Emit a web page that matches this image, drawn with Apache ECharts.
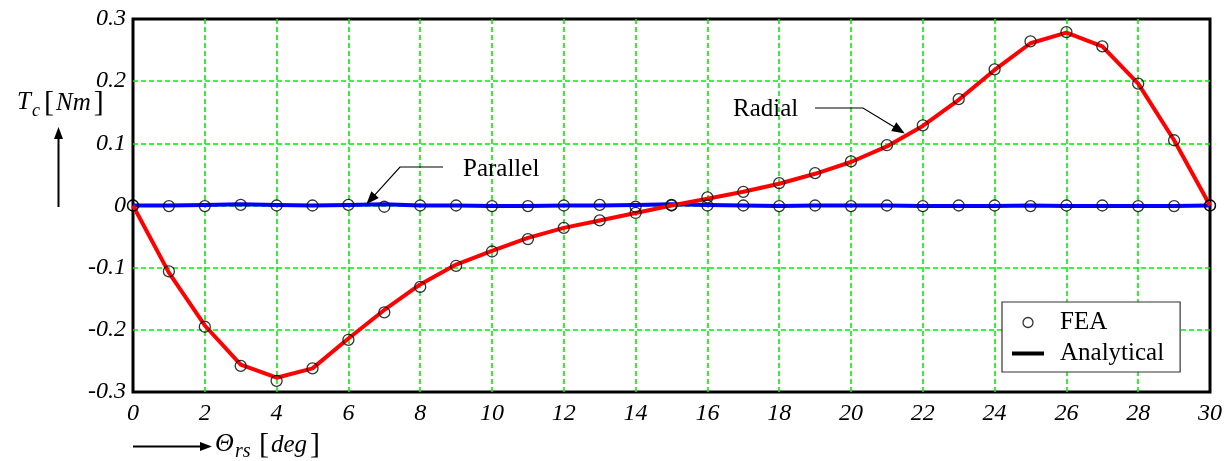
<!DOCTYPE html>
<html>
<head>
<meta charset="utf-8">
<title>Cogging torque vs. rotor position</title>
<script src="https://cdn.jsdelivr.net/npm/echarts@6/dist/echarts.min.js"></script>
<style>
  html, body { margin: 0; padding: 0; background: #fff; }
  #chart { width: 1226px; height: 461px; }
</style>
</head>
<body>
<div id="chart"></div>
<script>
// Rotor position in degrees
const thetaDeg = [0, 1, 2, 3, 4, 5, 6, 7, 8, 9, 10, 11, 12, 13, 14, 15,
                  16, 17, 18, 19, 20, 21, 22, 23, 24, 25, 26, 27, 28, 29, 30];

// Radial magnetisation: cogging torque [Nm]
const radialAnalytical = [0, -0.108, -0.193, -0.256, -0.277, -0.262, -0.214, -0.168, -0.127, -0.095,
                          -0.073, -0.052, -0.036, -0.024, -0.012, 0.000, 0.011, 0.022, 0.035, 0.051,
                          0.070, 0.095, 0.128, 0.170, 0.218, 0.261, 0.278, 0.256, 0.196, 0.105, 0.000];
const radialFEA = [0, -0.106, -0.195, -0.258, -0.282, -0.262, -0.216, -0.172, -0.131, -0.097,
                   -0.074, -0.054, -0.036, -0.024, -0.012, 0.000, 0.013, 0.022, 0.036, 0.052,
                   0.071, 0.097, 0.129, 0.171, 0.219, 0.264, 0.279, 0.256, 0.196, 0.105, 0.000];

// Parallel magnetisation: cogging torque [Nm]
const parallelAnalytical = [0, 0, 0.001, 0.002, 0.001, 0, 0.001, 0.002, 0, 0,
                            -0.001, -0.001, 0, 0, 0.001, 0.002, 0.001, 0, -0.001, 0,
                            0, 0, -0.001, -0.001, -0.001, 0, -0.001, -0.001, -0.001, -0.001, 0];
const parallelFEA = [0, -0.001, -0.001, 0.001, 0, 0, 0.001, -0.002, 0, 0,
                     -0.001, -0.001, 0, 0.001, -0.002, 0.001, 0, 0, -0.001, 0,
                     -0.001, 0, -0.001, 0, 0, -0.001, 0, 0, -0.001, -0.001, 0];

// Tick labels of the torque axis
const yTickLabels = { '-0.3': '-0.3', '-0.2': '-0.2', '-0.1': '-0.1', '0': '0', '0.1': '0.1', '0.2': '0.2', '0.3': '0.3' };

// Where the curve labels point, in data coordinates
const parallelPointer = [6.5, 0.002];
const radialPointer = [21.5, 0.116];

const pair = (xs, ys) => xs.map((x, i) => [x, ys[i]]);

const SERIF = "'Liberation Serif', 'Times New Roman', serif";
const GREEN = '#00f000';

const gridLines = () => ({
  show: true, showMinLine: false, showMaxLine: false,
  lineStyle: { color: GREEN, width: 1.6, type: [5, 3] }
});

const chart = echarts.init(document.getElementById('chart'), null, { renderer: 'canvas' });

const option = {
  backgroundColor: '#fff',
  animation: false,
  grid: {
    left: 133, right: 16, top: 19, bottom: 69,
    show: true, borderColor: '#000', borderWidth: 3, backgroundColor: 'transparent',
    containLabel: false
  },
  xAxis: {
    type: 'value', min: 0, max: 30, interval: 2,
    axisLine: { show: false },
    axisTick: { show: false },
    axisLabel: {
      margin: 10, color: '#000', fontFamily: SERIF, fontStyle: 'italic', fontSize: 24
    },
    splitLine: gridLines()
  },
  yAxis: {
    type: 'value', min: -0.3, max: 0.3, interval: 0.1,
    axisLine: { show: false },
    axisTick: { show: false },
    axisLabel: {
      margin: 7, color: '#000', fontFamily: SERIF, fontStyle: 'italic', fontSize: 24,
      formatter: v => yTickLabels[String(Math.round(v * 10) / 10)] ?? String(v)
    },
    splitLine: gridLines()
  },
  legend: {
    orient: 'vertical',
    left: 1002, top: 302,
    padding: [8, 16, 6, 10],
    itemGap: 6,
    itemWidth: 32, itemHeight: 10,
    backgroundColor: '#fff',
    borderColor: '#333', borderWidth: 1.2, borderRadius: 0,
    selectedMode: false,
    textStyle: { color: '#000', fontFamily: SERIF, fontSize: 25, padding: [0, 0, 0, 11] },
    data: [
      { name: 'FEA', icon: 'circle',
        itemStyle: { color: 'rgba(0,0,0,0)', borderColor: '#000', borderWidth: 1.3 } },
      { name: 'Analytical', icon: 'path://M0,0H32V4H0Z',
        itemStyle: { color: '#000', borderWidth: 0 } }
    ]
  },
  series: [
    {
      name: 'Analytical', type: 'line', data: pair(thetaDeg, parallelAnalytical),
      symbol: 'none', smooth: false, z: 2,
      lineStyle: { color: '#0000ff', width: 4 }, itemStyle: { color: '#0000ff' }
    },
    {
      name: 'Analytical', type: 'line', data: pair(thetaDeg, radialAnalytical),
      symbol: 'none', smooth: false, z: 3,
      lineStyle: { color: '#ff0000', width: 4 }, itemStyle: { color: '#ff0000' }
    },
    {
      name: 'FEA', type: 'scatter', data: pair(thetaDeg, parallelFEA),
      symbol: 'circle', symbolSize: 11, z: 4,
      itemStyle: { color: 'rgba(0,0,0,0)', borderColor: '#000', borderWidth: 1.3 }
    },
    {
      name: 'FEA', type: 'scatter', data: pair(thetaDeg, radialFEA),
      symbol: 'circle', symbolSize: 11, z: 4,
      itemStyle: { color: 'rgba(0,0,0,0)', borderColor: '#000', borderWidth: 1.3 }
    }
  ]
};

chart.setOption(option);

// Filled triangular arrow head pointing from `from` to `tip`
function arrowHead(from, tip, len, halfW) {
  const dx = tip[0] - from[0], dy = tip[1] - from[1];
  const d = Math.hypot(dx, dy) || 1;
  const ux = dx / d, uy = dy / d;
  const bx = tip[0] - ux * len, by = tip[1] - uy * len;
  return {
    type: 'polygon', silent: true, z: 20,
    shape: { points: [tip, [bx - uy * halfW, by + ux * halfW], [bx + uy * halfW, by - ux * halfW]] },
    style: { fill: '#000' }
  };
}

function leader(points) {
  const n = points.length;
  const from = points[n - 2], tip = points[n - 1];
  const dx = tip[0] - from[0], dy = tip[1] - from[1];
  const d = Math.hypot(dx, dy);
  const stop = [tip[0] - dx / d * 10, tip[1] - dy / d * 10];
  return [
    { type: 'polyline', silent: true, z: 20,
      shape: { points: points.slice(0, n - 1).concat([stop]) },
      style: { stroke: '#000', lineWidth: 1.2, fill: null } },
    arrowHead(from, tip, 13, 5)
  ];
}

const pTip = chart.convertToPixel({ gridIndex: 0 }, parallelPointer);
const rTip = chart.convertToPixel({ gridIndex: 0 }, radialPointer);

const graphics = [];

// Curve labels with leader arrows
graphics.push({ type: 'text', silent: true, z: 20,
  style: { x: 463, y: 169, text: 'Parallel', font: '25px ' + SERIF, fill: '#000', verticalAlign: 'middle' } });
graphics.push(...leader([[443, 167], [400, 167], pTip]));

graphics.push({ type: 'text', silent: true, z: 20,
  style: { x: 733, y: 109, text: 'Radial', font: '25px ' + SERIF, fill: '#000', verticalAlign: 'middle' } });
graphics.push(...leader([[815, 108], [863, 108], rTip]));

// Torque axis title with upward arrow
graphics.push({ type: 'text', silent: true,
  style: { x: 17, y: 102, text: 'T', font: 'italic 25px ' + SERIF, fill: '#000', verticalAlign: 'middle' } });
graphics.push({ type: 'text', silent: true,
  style: { x: 32, y: 111, text: 'c', font: 'italic 18px ' + SERIF, fill: '#000', verticalAlign: 'middle' } });
graphics.push({ type: 'text', silent: true,
  style: { x: 44, y: 103, text: '{b|[}{i|Nm}{b|]}', fill: '#000', verticalAlign: 'middle',
    rich: {
      b: { fontFamily: SERIF, fontSize: 30, fill: '#000' },
      i: { fontFamily: SERIF, fontStyle: 'italic', fontSize: 25, fill: '#000', padding: [0, 3, 0, 2] }
    } } });
graphics.push({ type: 'line', silent: true,
  shape: { x1: 58.5, y1: 207, x2: 58.5, y2: 137 }, style: { stroke: '#000', lineWidth: 2 } });
graphics.push(arrowHead([58.5, 207], [58.5, 127], 12, 4.5));

// Rotor position axis title with rightward arrow
graphics.push({ type: 'line', silent: true,
  shape: { x1: 133, y1: 446.5, x2: 202, y2: 446.5 }, style: { stroke: '#000', lineWidth: 2 } });
graphics.push(arrowHead([133, 446.5], [212, 446.5], 12, 4.5));
graphics.push({ type: 'text', silent: true,
  style: { x: 215, y: 444, text: 'Θ', font: 'italic 26px ' + SERIF, fill: '#000', verticalAlign: 'middle' } });
graphics.push({ type: 'text', silent: true,
  style: { x: 235, y: 452, text: 'rs', font: 'italic 20px ' + SERIF, fill: '#000', verticalAlign: 'middle' } });
graphics.push({ type: 'text', silent: true,
  style: { x: 259, y: 445, text: '{b|[}{i|deg}{b|]}', fill: '#000', verticalAlign: 'middle',
    rich: {
      b: { fontFamily: SERIF, fontSize: 30, fill: '#000' },
      i: { fontFamily: SERIF, fontStyle: 'italic', fontSize: 25, fill: '#000', padding: [0, 3, 0, 2] }
    } } });

chart.setOption({ graphic: graphics });
</script>
</body>
</html>
